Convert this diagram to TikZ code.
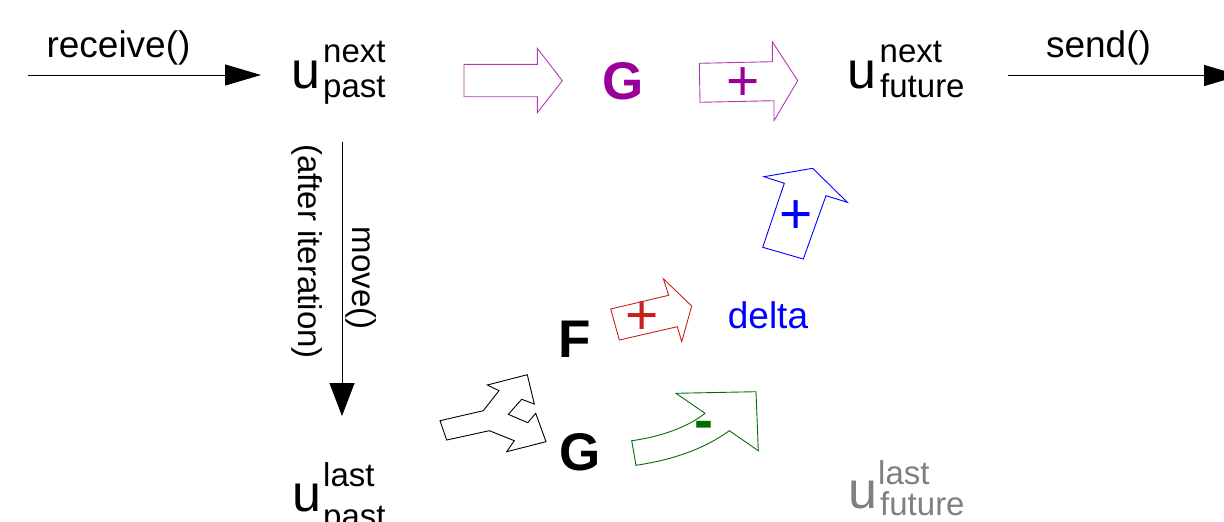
\documentclass[tikz,border=0pt]{standalone}
\usepackage{fontspec}
\setmainfont{Liberation Sans}
\usetikzlibrary{arrows.meta}
\definecolor{gpurple}{RGB}{153,0,153}
\definecolor{apurple}{RGB}{175,60,175}
\definecolor{gred}{RGB}{201,33,30}
\definecolor{gblue}{RGB}{0,0,255}
\definecolor{ggreen}{RGB}{0,110,0}
\definecolor{ugray}{RGB}{128,128,128}
\tikzset{
  lbl/.style={inner sep=0pt, anchor=base, font=\fontsize{37}{37}\selectfont},
  rotlbl/.style={inner sep=0pt, rotate=-90, font=\fontsize{33}{33}\selectfont},
  ubig/.style={inner sep=0pt, anchor=base west, font=\fontsize{52}{52}\selectfont},
  uscript/.style={inner sep=0pt, anchor=base west, font=\fontsize{33}{33}\selectfont},
  bigletter/.style={inner sep=0pt, anchor=base west, font=\fontsize{53}{53}\selectfont\bfseries},
  sign/.style={inner sep=0pt, font=\fontsize{57}{57}\selectfont},
  flow/.style={line width=1pt, -{Triangle[length=36pt,width=21pt]}},
  blockarrow/.style={line width=0.9pt, line join=miter},
}
\begin{document}
\begin{tikzpicture}[x=1pt,y=-1pt]
\useasboundingbox (0,0) rectangle (1224,522);

% ---- labels on the top row
\node[lbl] (recv) at (118.5,57) {receive()};
\node[lbl] (send) at (1098.5,57) {send()};

% ---- u symbols
\node[ubig] (u1) at (291.5,88) {u};
\node[uscript] (u1sup) at (323,62) {next};
\node[uscript] (u1sub) at (323,97) {past};

\node[ubig] (u2) at (847.5,88) {u};
\node[uscript] (u2sup) at (879.5,62) {next};
\node[uscript] (u2sub) at (880,97) {future};

\node[ubig] (u3) at (292,511) {u};
\node[uscript] (u3sup) at (323,486) {last};
\node[uscript] (u3sub) at (323,527) {past};

\node[ubig, text=ugray] (u4) at (848.5,508) {u};
\node[uscript, text=ugray] (u4sup) at (878,484) {last};
\node[uscript, text=ugray] (u4sub) at (880,515) {future};

% ---- flow arrows
\coordinate (recvA) at (28,75);
\coordinate (recvB) at (261,75);
\draw[flow] (recvA) -- (recvB);
\coordinate (sendA) at (1008,75.5);
\coordinate (sendB) at (1240,75.5);
\draw[flow] (sendA) -- (sendB);
\coordinate (moveA) at (342,142);
\coordinate (moveB) at (342,416);
\draw[flow, -{Triangle[length=33pt,width=25pt]}] (moveA) -- (moveB);

\node[rotlbl] (after) at (307.5,251.5) {(after iteration)};
\node[rotlbl] (move) at (361.5,278) {move()};

% ---- top row operators
\draw[blockarrow, apurple] (464,64.3) -- (537.3,64.3) -- (537.3,48.3) -- (562.3,80.7)
  -- (537.3,112.7) -- (537.3,96.7) -- (464,96.7) -- cycle;
\node[bigletter, text=gpurple] (gtop) at (602.7,99.5) {G};
\draw[blockarrow, apurple] (699.3,63.3) -- (772.3,61.7) -- (772.3,41.7) -- (797.7,80.7)
  -- (774,120.7) -- (774,100.7) -- (700,102.3) -- cycle;
\node[sign, text=gpurple] (ptop) at (743,84) {+};

% ---- middle
\node[bigletter] (F) at (558.5,357.5) {F};
\draw[blockarrow, gred] (610.7,309) -- (668.7,295.3) -- (663.3,278.7) -- (691.7,306)
  -- (681.7,341.7) -- (677.3,326.7) -- (619.3,340) -- cycle;
\node[sign, text=gred] (pred) at (642,318) {+};

\node[lbl, text=gblue] (delta) at (768,328) {delta};

\draw[blockarrow, gblue] (762.7,247.3) -- (784.3,183.3) -- (764,176.7) -- (812.7,168.3)
  -- (847.3,202.3) -- (826,195.7) -- (803.3,259) -- cycle;
\node[sign, text=gblue] (pblue) at (796,217) {+};

% ---- bottom
\draw[blockarrow, black] (440,420.7) -- (483.3,410.7) -- (499,390.7) -- (487.3,385)
  -- (527.3,374.7) -- (534.3,404) -- (521.7,399.3) -- (508.3,414.3) -- (527.7,422.7)
  -- (535.7,413.3) -- (546,441.7) -- (506.7,451.7) -- (514.3,440.7) -- (489.3,430.7)
  -- (446.7,440) -- cycle;
\node[bigletter] (gbot) at (559.5,470) {G};

\draw[blockarrow, ggreen] (631.7,440.7) .. controls (660,437) and (688,427) .. (705,413.3)
  -- (676,393.3) -- (756,391.7) -- (758.3,450.7) -- (729.3,430.7)
  .. controls (700,452) and (665,461) .. (636,465.3) -- cycle;
\node[sign, text=ggreen, font=\fontsize{57}{57}\selectfont\bfseries] (mgreen) at (704,430) {-};
\end{tikzpicture}
\end{document}
